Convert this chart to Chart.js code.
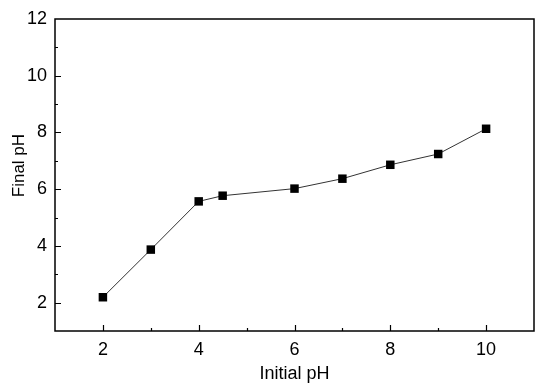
<!DOCTYPE html>
<html>
<head>
<meta charset="utf-8">
<script src="https://cdn.jsdelivr.net/npm/chart.js@4"></script>
<style>
  html, body { margin: 0; padding: 0; background: #fff; }
</style>
</head>
<body>
<canvas id="grafico" width="550" height="386"></canvas>
<script>
// dados
const initialPH = [2, 3, 4, 4.5, 6, 7, 8, 9, 10];
const finalPH = [2.19, 3.87, 5.57, 5.77, 6.02, 6.37, 6.86, 7.24, 8.13];
const xTicks = [2, 4, 6, 8, 10];
const yTicks = [2, 4, 6, 8, 10, 12];

const fonte = "'Liberation Sans', Arial, sans-serif";

// moldura e ticks para dentro
const molduraPlugin = {
  id: "moldura",
  afterDraw(chart) {
    const { ctx, chartArea: a, scales: { x, y } } = chart;
    ctx.save();
    ctx.strokeStyle = "#000";
    ctx.lineWidth = 1.5;
    ctx.strokeRect(a.left, a.top, a.right - a.left, a.bottom - a.top);
    ctx.lineWidth = 1.2;
    ctx.beginPath();
    for (let v = 2; v <= 10; v += 1) {
      const px = Math.round(x.getPixelForValue(v)) + 0.5;
      const len = v % 2 === 0 ? 6 : 3;
      ctx.moveTo(px, a.bottom);
      ctx.lineTo(px, a.bottom - len);
    }
    for (let v = 2; v <= 11; v += 1) {
      const py = Math.round(y.getPixelForValue(v)) + 0.5;
      const len = v % 2 === 0 ? 6 : 3;
      ctx.moveTo(a.left, py);
      ctx.lineTo(a.left + len, py);
    }
    ctx.stroke();
    ctx.restore();
  }
};

new Chart(document.getElementById("grafico"), {
  type: "line",
  data: {
    datasets: [{
      data: initialPH.map((v, i) => ({ x: v, y: finalPH[i] })),
      borderColor: "#333",
      borderWidth: 1,
      backgroundColor: "#000",
      pointStyle: "rect",
      pointRadius: 6,
      pointBorderWidth: 0,
      tension: 0,
    }],
  },
  options: {
    responsive: false,
    animation: false,
    devicePixelRatio: 1,
    layout: { padding: { left: 0, right: 16, top: 19, bottom: 0 } },
    plugins: { legend: { display: false }, tooltip: { enabled: false } },
    scales: {
      x: {
        type: "linear",
        min: 1,
        max: 11,
        afterFit: (s) => { s.height = 55; },
        afterBuildTicks: (s) => { s.ticks = xTicks.map((v) => ({ value: v })); },
        grid: { display: false, drawTicks: false },
        border: { display: false },
        ticks: { padding: 8, color: "#000", font: { family: fonte, size: 18 } },
        title: { display: true, text: "Initial pH", color: "#000", padding: { top: 0, bottom: 1 }, font: { family: fonte, size: 18 } },
      },
      y: {
        type: "linear",
        min: 1,
        max: 12,
        afterFit: (s) => { s.width = 55; },
        afterBuildTicks: (s) => { s.ticks = yTicks.map((v) => ({ value: v })); },
        grid: { display: false, drawTicks: false },
        border: { display: false },
        ticks: { padding: 8, color: "#000", font: { family: fonte, size: 18 } },
        title: { display: true, text: "\u00a0\u00a0\u00a0\u00a0Final pH", color: "#000", padding: { top: 9, bottom: 0 }, font: { family: fonte, size: 17 } },
      },
    },
  },
  plugins: [molduraPlugin],
});
</script>
</body>
</html>
